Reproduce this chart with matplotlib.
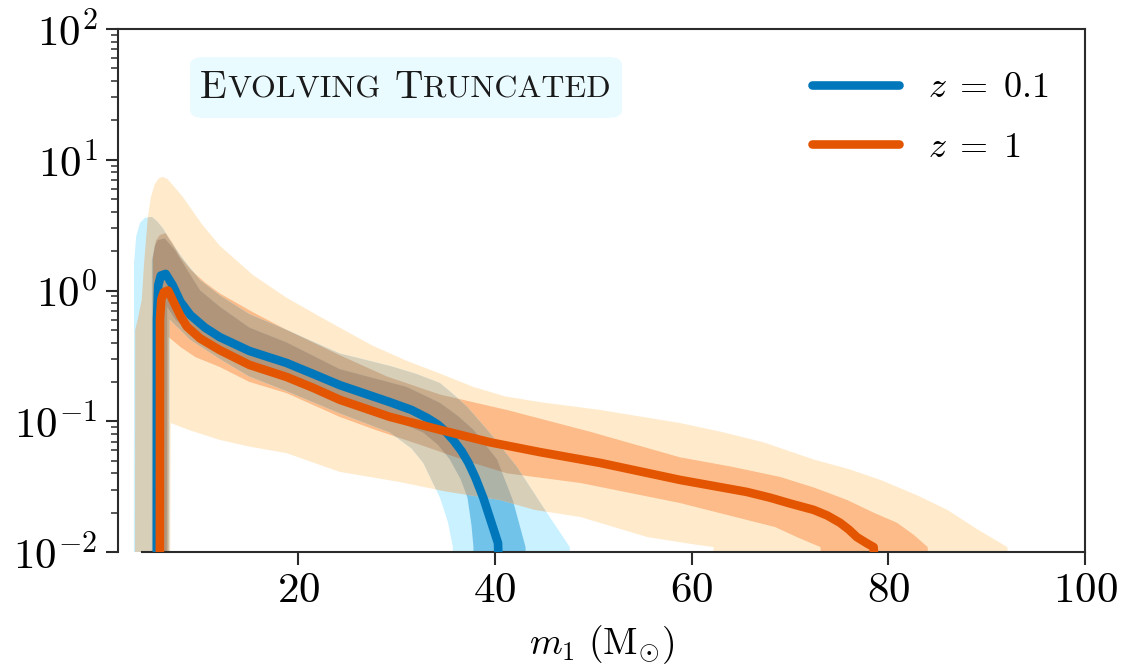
import numpy as np
import matplotlib
matplotlib.use("Agg")
import matplotlib.pyplot as plt
import matplotlib.transforms as mtransforms
from matplotlib.patches import FancyBboxPatch
from matplotlib.ticker import LogLocator, NullFormatter

plt.rcParams.update({
    "font.family": "serif",
    "font.serif": ["cmr10"],
    "mathtext.fontset": "cm",
    "axes.formatter.use_mathtext": True,
    "axes.unicode_minus": False,
})

FLOOR = 1e-3  # below the visible y-range

# ---- z = 0.1 (blue): median and 50% / 90% credible bands ----
blue_med_m = [5.6, 5.62, 5.75, 6.0, 6.5, 7.2, 8.0, 9.0, 10.5, 12.0, 15.0, 18.8, 21.5, 24.2,
              29.3, 31.5, 33.1, 34.2, 35.0, 35.8, 36.6, 37.3, 38.0, 38.8, 39.6, 40.3, 40.7]
blue_med_p = [FLOOR, 0.6, 1.1, 1.3, 1.34, 1.1, 0.82, 0.65, 0.52, 0.44, 0.345, 0.279, 0.23, 0.189,
              0.140, 0.122, 0.106, 0.094, 0.083, 0.071, 0.059, 0.048, 0.037, 0.026, 0.017,
              0.0117, FLOOR]

blue_hi90_m = [3.26, 3.28, 3.5, 3.9, 4.4, 5.09, 5.6, 6.2, 6.92, 7.8, 8.65, 10.0, 12.0, 15.0,
               18.8, 24.2, 29.3, 32.0, 34.4, 36.0, 37.2, 39.5, 42.2, 44.9, 46.5, 47.6, 47.9]
blue_hi90_p = [FLOOR, 1.6, 2.6, 3.3, 3.6, 3.65, 3.4, 3.0, 2.43, 1.95, 1.6, 1.2, 0.92, 0.66,
               0.5, 0.33, 0.265, 0.23, 0.196, 0.155, 0.128, 0.081, 0.045, 0.022, 0.0145, 0.0109, FLOOR]
blue_lo90_m = [3.26, 6.85, 6.9, 9.0, 12.0, 15.0, 18.8, 24.2, 29.3, 31.5, 32.7, 34.4, 35.2, 35.7, 35.9]
blue_lo90_p = [FLOOR, FLOOR, 0.60, 0.42, 0.30, 0.22, 0.17, 0.115, 0.082, 0.062, 0.048, 0.026,
               0.017, 0.011, FLOOR]

blue_hi50_m = [5.09, 5.1, 5.4, 5.7, 6.4, 7.43, 8.65, 10.0, 12.0, 15.0, 18.8, 24.2, 31.0, 34.4,
               36.2, 37.8, 40.2, 41.8, 42.5, 43.1, 43.3]
blue_hi50_p = [FLOOR, 1.7, 2.2, 2.43, 2.5, 2.04, 1.45, 1.0, 0.75, 0.52, 0.40, 0.25, 0.183, 0.138,
               0.11, 0.086, 0.051, 0.025, 0.016, 0.0109, FLOOR]
blue_lo50_m = [5.09, 6.6, 6.65, 7.5, 8.65, 10.0, 12.0, 15.0, 18.8, 24.2, 29.3, 32.7, 34.2, 35.4,
               36.5, 37.2, 37.6, 37.8, 37.9]
blue_lo50_p = [FLOOR, FLOOR, 0.75, 0.6, 0.5, 0.42, 0.35, 0.27, 0.215, 0.14, 0.105, 0.082,
               0.066, 0.051, 0.036, 0.026, 0.016, 0.011, FLOOR]

# ---- z = 1 (orange) ----
orange_med_m = [5.9, 5.92, 6.05, 6.3, 6.75, 7.3, 8.0, 8.65, 10.0, 12.0, 15.0, 18.8, 21.5, 24.2,
                29.3, 34.4, 39.5, 44.6, 50.7, 58.8, 65.6, 68.0, 70.0, 72.4, 73.8, 75.1, 76.0,
                76.8, 77.7, 78.5, 79.2]
orange_med_p = [FLOOR, 0.6, 0.85, 0.97, 1.0, 0.82, 0.64, 0.53, 0.43, 0.35, 0.27, 0.218, 0.18,
                0.146, 0.108, 0.086, 0.069, 0.058, 0.048, 0.0356, 0.0288, 0.026, 0.0235, 0.021,
                0.019, 0.0167, 0.0148, 0.013, 0.0118, 0.0109, FLOOR]

orange_hi90_m = [3.36, 3.4, 3.7, 4.07, 4.3, 4.68, 5.0, 5.39, 5.8, 6.2, 6.7, 7.3, 8.24, 9.2, 10.2,
                 12.0, 15.4, 18.8, 22.2, 24.2, 27.5, 31.0, 34.5, 37.8, 41.0, 44.6, 50.7, 58.8,
                 63.0, 67.3, 72.4, 76.0, 79.2, 83.0, 86.0, 89.0, 92.1, 92.9]
orange_hi90_p = [FLOOR, 0.5, 0.62, 0.85, 1.6, 3.6, 5.2, 6.5, 7.2, 7.4, 7.1, 6.3, 5.2, 4.1, 3.2,
                 2.2, 1.31, 0.88, 0.63, 0.52, 0.38, 0.29, 0.23, 0.183, 0.155, 0.14, 0.122, 0.097,
                 0.083, 0.069, 0.051, 0.043, 0.0356, 0.027, 0.021, 0.015, 0.0109, FLOOR]
orange_lo90_m = [3.36, 6.95, 7.0, 9.0, 12.0, 15.0, 18.8, 24.2, 30.3, 35.0, 40.5, 44.0, 48.7,
                 55.5, 60.0, 62.2, 62.9]
orange_lo90_p = [FLOOR, FLOOR, 0.097, 0.085, 0.072, 0.064, 0.057, 0.041, 0.0343, 0.029, 0.025,
                 0.021, 0.0185, 0.013, 0.0115, 0.0109, FLOOR]

orange_hi50_m = [5.19, 5.22, 5.5, 5.9, 6.5, 7.2, 8.0, 9.0, 10.5, 12.0, 15.4, 18.8, 24.2, 29.0,
                 34.4, 41.2, 49.7, 58.8, 64.0, 69.0, 72.5, 75.8, 78.5, 80.9, 82.6, 84.0, 84.5]
orange_hi50_p = [FLOOR, 1.8, 2.4, 2.65, 2.75, 2.3, 1.8, 1.45, 1.15, 0.95, 0.68, 0.5, 0.32, 0.22,
                 0.16, 0.122, 0.083, 0.053, 0.045, 0.0375, 0.031, 0.025, 0.02, 0.0167, 0.0135,
                 0.0109, FLOOR]
orange_lo50_m = [5.19, 6.75, 6.8, 8.0, 9.5, 12.0, 15.0, 18.8, 24.2, 28.0, 32.4, 37.0, 41.2, 48.7,
                 58.8, 65.6, 68.5, 70.7, 73.1, 73.5]
orange_lo50_p = [FLOOR, FLOOR, 0.44, 0.37, 0.31, 0.26, 0.2, 0.164, 0.108, 0.085, 0.066, 0.05,
                 0.04, 0.0337, 0.0237, 0.0176, 0.0155, 0.013, 0.0109, FLOOR]

series_labels = [r"$z\;=\;0.1$", r"$z\;=\;1$"]
x_ticks = [20, 40, 60, 80, 100]
title_words = ["Evolving", "Truncated"]

BLUE = "#0077BB"
ORANGE = "#E35500"
O90, O50 = "#FFEBCC", "#FCBB88"
B90, B50 = "#C9F1FF", "#72C3EA"
B90_O90, B90_O50 = "#D8CFB9", "#C9AD8D"
B50_O90, B50_O50 = "#AEB3A8", "#B0957A"

fig = plt.figure(figsize=(11.23, 6.69), dpi=100)
W, H = 1123, 669
ax = fig.add_axes([118 / W, (H - 552) / H, (1085 - 118) / W, (552 - 29) / H])


def band(xh, yh, xl, yl, color, z, clip=None):
    xs = np.concatenate([xh, np.asarray(xl)[::-1]])
    ys = np.concatenate([yh, np.asarray(yl)[::-1]])
    poly = ax.fill(xs, ys, color=color, linewidth=0, zorder=z)[0]
    if clip is not None:
        poly.set_clip_path(clip)
    return poly


o90 = band(orange_hi90_m, orange_hi90_p, orange_lo90_m, orange_lo90_p, O90, 1.0)
o50 = band(orange_hi50_m, orange_hi50_p, orange_lo50_m, orange_lo50_p, O50, 1.1)
band(blue_hi90_m, blue_hi90_p, blue_lo90_m, blue_lo90_p, B90, 1.2)
band(blue_hi50_m, blue_hi50_p, blue_lo50_m, blue_lo50_p, B50, 1.3)
# where the two redshifts' bands overlap
band(blue_hi90_m, blue_hi90_p, blue_lo90_m, blue_lo90_p, B90_O90, 1.4, clip=o90)
band(blue_hi90_m, blue_hi90_p, blue_lo90_m, blue_lo90_p, B90_O50, 1.5, clip=o50)
band(blue_hi50_m, blue_hi50_p, blue_lo50_m, blue_lo50_p, B50_O90, 1.6, clip=o90)
band(blue_hi50_m, blue_hi50_p, blue_lo50_m, blue_lo50_p, B50_O50, 1.7, clip=o50)

ax.plot(blue_med_m, blue_med_p, color=BLUE, lw=6.2, solid_capstyle="butt",
        solid_joinstyle="round", zorder=3, label=series_labels[0])
ax.plot(orange_med_m, orange_med_p, color=ORANGE, lw=6.2, solid_capstyle="butt",
        solid_joinstyle="round", zorder=4, label=series_labels[1])

ax.set_yscale("log")
ax.set_ylim(1e-2, 1e2)
ax.set_xlim(1.65, 100)
ax.set_xticks(x_ticks)
ax.yaxis.set_major_locator(LogLocator(base=10, numticks=10))
ax.yaxis.set_minor_locator(LogLocator(base=10, subs=np.arange(2, 10), numticks=100))
ax.yaxis.set_minor_formatter(NullFormatter())

for sp in ax.spines.values():
    sp.set_linewidth(1.5)
    sp.set_color("#2b2b2b")
ax.spines["bottom"].set_bounds(4.1, 100)

ax.tick_params(axis="both", which="major", direction="out", length=9, width=1.5,
               color="#2b2b2b", labelsize=31, pad=6)
ax.tick_params(axis="y", which="minor", direction="out", length=5, width=1.1, color="#2b2b2b")
ax.tick_params(axis="x", which="minor", bottom=False)

ax.set_xlabel(r"$m_1\ (\mathrm{M}_{\odot})$", fontsize=27, labelpad=9)

leg = ax.legend(loc="upper left", bbox_to_anchor=(812 / W, (H - 72) / H),
                bbox_transform=fig.transFigure, frameon=False, fontsize=26,
                handlelength=2.4, handletextpad=0.8, labelspacing=0.75,
                borderpad=0, borderaxespad=0)
for ln in leg.get_lines():
    ln.set_linewidth(6.2)
    ln.set_solid_capstyle("round")

# Small-caps heading inside a rounded, pale box
renderer = fig.canvas.get_renderer()
big, small = 28.5, 23.0
segments = []
for i, word in enumerate(title_words):
    if i > 0:
        segments.append((None, big))
    segments.append((word[0].upper(), big))
    segments.append((word[1:].upper(), small))

x0_px, base_px = 200, H - 98
offset = 0.0
for piece, size in segments:
    if piece is None:
        offset += 0.36 * size * fig.dpi / 72
        continue
    tr = mtransforms.offset_copy(fig.transFigure, fig=fig, x=offset, y=0, units="dots")
    t = fig.text(x0_px / W, base_px / H, piece, fontsize=size, transform=tr,
                 va="baseline", ha="left", color="#1a1a1a", zorder=6)
    offset += t.get_window_extent(renderer).width

box = FancyBboxPatch((190 / W, (H - 118) / H), (622 - 190) / W, (118 - 57) / H,
                     boxstyle="round,pad=0,rounding_size=0.012",
                     transform=fig.transFigure, facecolor="#EAFBFF",
                     edgecolor="none", zorder=5)
fig.patches.append(box)

fig.savefig("out.png", dpi=100)
